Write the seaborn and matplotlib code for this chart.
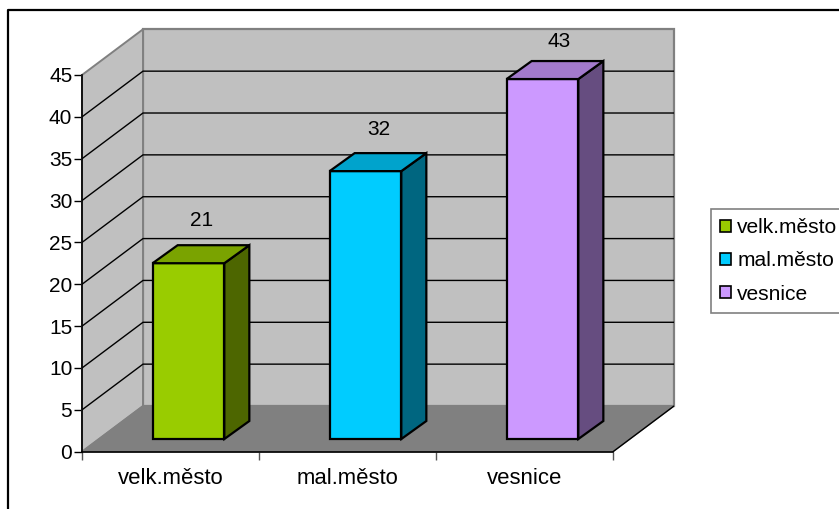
import matplotlib
matplotlib.use("Agg")
import matplotlib.pyplot as plt
import pandas as pd
import seaborn as sns
from matplotlib.lines import Line2D
from matplotlib.patches import Polygon
from matplotlib.transforms import Affine2D

categories = ["velk.město", "mal.město", "vesnice"]
values = [21, 32, 43]
front_colors = ["#99CC00", "#00CCFF", "#CC99FF"]
side_colors = ["#4D6600", "#006680", "#664D80"]
top_colors = ["#7AA300", "#00A3CC", "#A37ACC"]
y_ticks = list(range(0, 50, 5))

W, H = 839, 509
sns.set_theme(style="white")
plt.rcParams["font.family"] = ["Liberation Sans", "DejaVu Sans"]
FS = 15.9
FS_NUM = 15.0
FS_LEG = 15.1

fig = plt.figure(figsize=(W / 100, H / 100), dpi=100, facecolor="white")
# axes in pixels: x 82..674, y 451.7..30
L, R, B, T = 82.0, 674.0, 451.7, 30.0
ax = fig.add_axes([L / W, 1 - B / H, (R - L) / W, (B - T) / H])
ax.patch.set_visible(False)
cat_w = (613.0 - L) / 3
unit = (B - 75.0) / 45
ax.set_xlim(-0.5, -0.5 + (R - L) / cat_w)
ax.set_ylim(0, (B - T) / unit)

df = pd.DataFrame({"area": categories, "n": values})
sns.barplot(data=df, x="area", y="n", hue="area", hue_order=categories,
            palette=front_colors, dodge=False, width=0.405, saturation=1,
            edgecolor="black", linewidth=1.6, ax=ax, zorder=5, legend=True)
ax.set_xlim(-0.5, -0.5 + (R - L) / cat_w)
ax.set_ylim(0, (B - T) / unit)

def shifted(dx, dy):
    return ax.transData + Affine2D().translate(dx, dy)

# walls
DX, DY = R - 613.0, 45.7
x0, x1 = -0.5, 2.5
back = shifted(DX, DY)
top_v = 45
ax.add_patch(Polygon([(x0, 0), (x1, 0), (x1, top_v), (x0, top_v)], closed=True,
                     transform=back, fc="#C0C0C0", ec="#808080", lw=1.6, zorder=1,
                     clip_on=False))

# side wall as a parallelogram: front edge in data space, back edge shifted
def para(xa, va, xb, vb, dx, dy):
    pa = ax.transData.transform([(xa, va), (xb, vb)])
    pts = [pa[0], pa[1], pa[1] + (dx, dy), pa[0] + (dx, dy)]
    return pts

ax.add_patch(Polygon(para(x0, 0, x0, top_v, DX, DY), closed=True, transform=None,
                     fc="#C0C0C0", ec="#808080", lw=1.4, zorder=2, clip_on=False))
ax.add_patch(Polygon(para(x0, 0, x1, 0, DX, DY), closed=True, transform=None,
                     fc="#808080", ec="#808080", lw=1.0, zorder=2, clip_on=False))

# gridlines on both walls
for v in y_ticks[1:-1]:
    p = ax.transData.transform((x0, v))
    q = p + (DX, DY)
    r = ax.transData.transform((x1, v)) + (DX, DY)
    ax.add_line(Line2D([p[0], q[0], r[0]], [p[1], q[1], r[1]], transform=None,
                       color="black", lw=1.0, zorder=3))
# front right floor edge
p = ax.transData.transform((x1, 0))
ax.add_line(Line2D([p[0], p[0] + DX], [p[1], p[1] + DY], transform=None,
                   color="black", lw=1.0, zorder=3))

# bars: moved onto the floor, with side and top faces
BX, BY = 18.0, 12.7
dbx, dby = 25.0, 18.0
label_nudge = [(31.5, 55.5), (31.0, 54.5), (34.5, 50.0)]
bars = [b for c in ax.containers for b in c if b.get_height() > 0]
bars.sort(key=lambda b: b.get_x())
for i, b in enumerate(bars):
    b.set_transform(shifted(BX, BY))
    xa, xb, h = b.get_x(), b.get_x() + b.get_width(), b.get_height()
    off = (BX, BY)
    ax.add_patch(Polygon([q + off for q in para(xb, 0, xb, h, dbx, dby)], closed=True,
                         transform=None, fc=side_colors[i], ec="black", lw=1.6,
                         joinstyle="miter", zorder=5))
    ax.add_patch(Polygon([q + off for q in para(xa, h, xb, h, dbx, dby)], closed=True,
                         transform=None, fc=top_colors[i], ec="black", lw=1.6,
                         joinstyle="miter", zorder=5))
    ax.text(i, h, str(values[i]), transform=shifted(*label_nudge[i]), ha="center",
            va="center", fontsize=FS_NUM, color="black", zorder=6)

# axes furniture
sns.despine(ax=ax, top=True, right=True)
ax.spines["left"].set_bounds(0, 45)
ax.spines["bottom"].set_bounds(x0, x1)
for s in ("left", "bottom"):
    ax.spines[s].set_color("black")
    ax.spines[s].set_linewidth(1.2)
    ax.spines[s].set_zorder(4)
ax.set_yticks(y_ticks)
ax.set_xticks([0, 1, 2])
ax.set_xticklabels(categories)
ax.set_xticks([x0, 0.5, 1.5, x1], minor=True)
ax.tick_params(axis="y", which="major", left=True, length=5.5, width=1.0, color="black",
               labelsize=FS_NUM, labelcolor="black", pad=1.5)
ax.tick_params(axis="x", which="major", bottom=False, length=0, labelsize=FS,
               labelcolor="black", pad=12)
ax.tick_params(axis="x", which="minor", bottom=True, length=6, width=1.0, color="#555555")
ax.set_xlabel("")
ax.set_ylabel("")

# legend box runs off the right edge like the reference
handles, labels = ax.get_legend_handles_labels()
leg = ax.legend(handles, labels, loc="upper left",
                bbox_to_anchor=(710.7 / W, 1 - 209.0 / H), bbox_transform=fig.transFigure,
                fontsize=FS_LEG, frameon=True, fancybox=False, framealpha=1,
                edgecolor="#808080", borderpad=0.44, borderaxespad=0,
                labelspacing=0.68, handlelength=0.52, handleheight=0.52,
                handletextpad=0.3)
leg.get_frame().set_linewidth(1.2)
leg.get_frame().set_width(200)
leg.set_zorder(8)
for t in leg.get_texts():
    t.set_color("black")
for h_ in leg.legend_handles:
    h_.set_linewidth(1.2)
    h_.set_edgecolor("black")

# outer chart border (open on right and bottom, as in the reference)
fig.add_artist(Line2D([8 / W, 8 / W, 1], [0, 1 - 10 / H, 1 - 10 / H],
                      transform=fig.transFigure, color="black", lw=1.6))

fig.savefig("out.png", dpi=100, facecolor="white")
